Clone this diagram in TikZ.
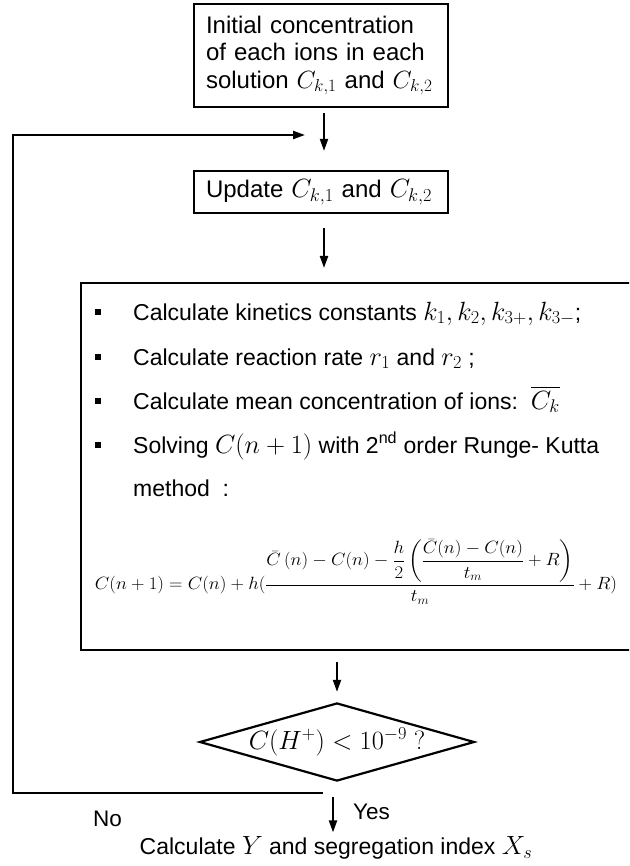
\documentclass[tikz,border=0pt]{standalone}
\usepackage{amsmath}
\usepackage{graphicx}
\usepackage{fontspec}
\setmainfont{Liberation Sans}
\usetikzlibrary{arrows.meta,shapes.geometric}
\newcommand{\mm}[1]{\scalebox{1.06}{$#1$}}
\begin{document}
\begin{tikzpicture}[x=1pt,y=-1pt,
  every node/.style={font=\fontsize{23}{28}\selectfont, inner sep=0pt},
  box/.style={draw, line width=2.2pt, align=left},
  arr/.style={line width=2pt, -{Triangle[length=12pt,width=8pt]}},
  fb/.style={line width=2.2pt, -{Triangle[length=12pt,width=8pt]}},
  bul/.style={fill=black, minimum size=6pt},
  txt/.style={anchor=base west},
  lbl/.style={font=\fontsize{22.5}{27}\selectfont}]
\useasboundingbox (0,0) rectangle (629,866);
\clip (0,0) rectangle (629,866);
\fill[white] (0,0) rectangle (629,866);

% top boxes
\node[box, minimum width=254pt, minimum height=103pt, text width=230pt,
      font=\fontsize{24}{27.5}\selectfont] (init) at (321,55.5)
  {Initial concentration\\of each ions in each\\\mbox{solution $C_{k,1}\ \mathrm{and}\ C_{k,2}$}};
\node[box, minimum width=254pt, minimum height=42pt, text width=230pt,
      font=\fontsize{24}{28}\selectfont] (upd) at (321,192)
  {\mbox{Update \mm{C_{k,1}} and \mm{C_{k,2}}}};

% big box (extends past right edge)
\node[draw, line width=2.2pt, anchor=north west, minimum width=600pt,
      minimum height=367pt] (calc) at (80,282) {};

% bullet lines
\node[bul] (b1) at (98,312) {};
\node[bul] (b2) at (98,357) {};
\node[bul] (b3) at (98,401) {};
\node[bul] (b4) at (98,445) {};
\node[txt] (t1) at (133,320) {Calculate kinetics constants \mm{k_1, k_2, k_{3+}, k_{3-}};};
\node[txt] (t2) at (133,365) {Calculate reaction rate \mm{r_1} and \mm{r_2} ;};
\node[txt] (t3) at (133,409) {Calculate mean concentration of ions:\ \ \mm{\overline{C_k}}};
\node[txt] (t4) at (133,453) {Solving \mm{C(n+1)} with 2\textsuperscript{nd} order Runge- Kutta};
\node[txt] (t5) at (133,496) {method\ \ :};

% formula
\node (frm) at (356,572) {\resizebox*{522pt}{65pt}{$\displaystyle
  C(n+1) = C(n) + h(\frac{\bar{C}\,(n) - C(n) - \dfrac{h}{2}\left(\dfrac{\bar{C}(n) - C(n)}{t_m} + R\right)}{t_m} + R)$}};

% decision
\node[draw, diamond, aspect=3.52, line width=2.2pt, minimum width=271pt,
      minimum height=77pt] (dec) at (337,742) {\mm{C(H^+) < 10^{-9}\ ?}};

% result
\node (res) at (336,848) {Calculate \mm{Y} and segregation index \mm{X_s}};
\node[lbl, anchor=west] (yes) at (353,812) {Yes};
\node[lbl] (no) at (107.5,819) {No};

% connectors
\draw[arr, shorten <=5pt, shorten >=19pt] ([xshift=3pt]init.south) -- ([xshift=3pt]upd.north);
\draw[arr, shorten <=14pt, shorten >=14pt] ([xshift=3pt]upd.south) -- ([xshift=3pt]upd.south |- calc.north);
\draw[arr, shorten <=11pt, shorten >=10pt] (dec.north |- calc.south) -- (dec.north);
\draw[arr, shorten <=15pt, shorten >=4pt] ([xshift=-4pt]dec.south) -- ([xshift=-4pt]dec.south |- res.north);

\coordinate (fb0) at (323,793);
\coordinate (fbc) at (13,135);
\coordinate (fb1) at (305,135);
\draw[fb] (fb0) -| (fbc) -- (fb1);
\end{tikzpicture}
\end{document}
